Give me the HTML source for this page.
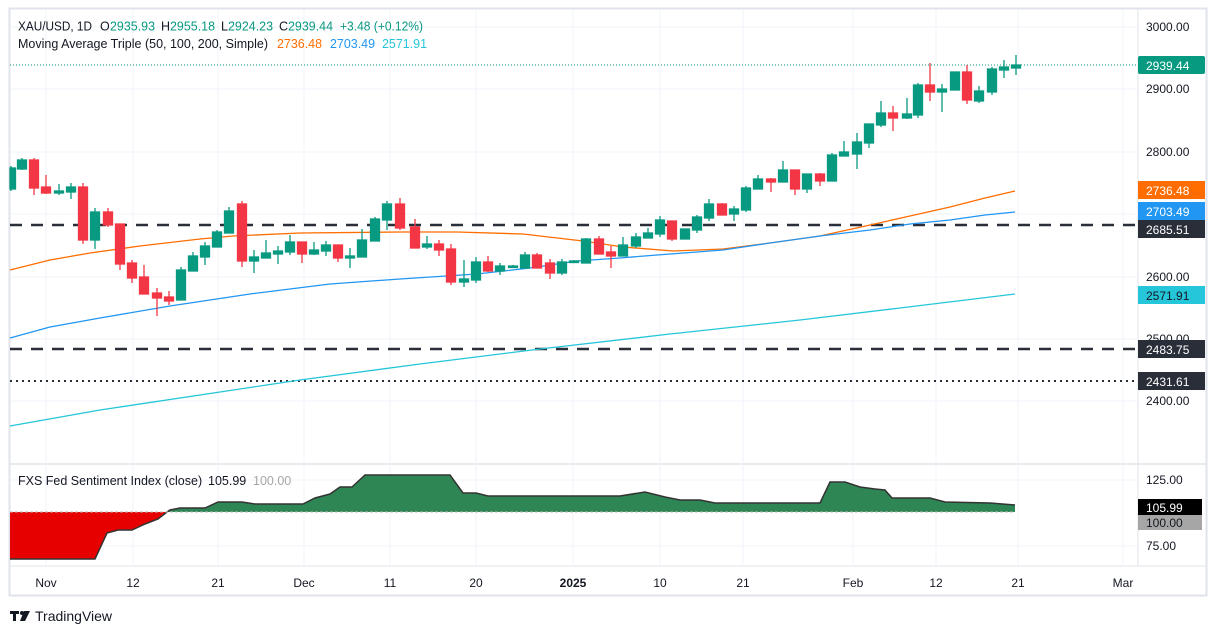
<!DOCTYPE html>
<html><head><meta charset="utf-8"><style>
html,body{margin:0;padding:0;background:#fff;}
svg{display:block;font-family:"Liberation Sans",sans-serif;}
text{white-space:pre;}
</style></head><body>
<svg width="1217" height="634" viewBox="0 0 1217 634" xmlns="http://www.w3.org/2000/svg" xml:space="preserve">
<rect x="0" y="0" width="1217" height="634" fill="#fff"/>
<rect x="9.5" y="8.5" width="1197" height="587" fill="none" stroke="#e0e3eb" stroke-width="2"/>
<line x1="1138" y1="9" x2="1138" y2="566" stroke="#e0e3eb"/>
<line x1="10" y1="464" x2="1206" y2="464" stroke="#e0e3eb" stroke-width="1.5"/>
<line x1="10" y1="566" x2="1206" y2="566" stroke="#e0e3eb"/>
<g stroke="#f0f3fa" stroke-width="1">
<line x1="10" y1="27" x2="1138" y2="27"/><line x1="10" y1="89" x2="1138" y2="89"/><line x1="10" y1="152" x2="1138" y2="152"/><line x1="10" y1="214" x2="1138" y2="214"/><line x1="10" y1="277" x2="1138" y2="277"/><line x1="10" y1="339" x2="1138" y2="339"/><line x1="10" y1="401" x2="1138" y2="401"/>
<line x1="10" y1="480" x2="1138" y2="480"/><line x1="10" y1="546" x2="1138" y2="546"/>
<line x1="46" y1="9" x2="46" y2="566"/><line x1="133" y1="9" x2="133" y2="566"/><line x1="218" y1="9" x2="218" y2="566"/><line x1="304" y1="9" x2="304" y2="566"/><line x1="390" y1="9" x2="390" y2="566"/><line x1="476" y1="9" x2="476" y2="566"/><line x1="573" y1="9" x2="573" y2="566"/><line x1="660" y1="9" x2="660" y2="566"/><line x1="743" y1="9" x2="743" y2="566"/><line x1="853" y1="9" x2="853" y2="566"/><line x1="936" y1="9" x2="936" y2="566"/><line x1="1018" y1="9" x2="1018" y2="566"/><line x1="1123" y1="9" x2="1123" y2="566"/>
</g>
<line x1="10" y1="225" x2="1138" y2="225" stroke="#2a2e39" stroke-width="2.5" stroke-dasharray="12,9"/>
<line x1="10" y1="349" x2="1138" y2="349" stroke="#2a2e39" stroke-width="2.5" stroke-dasharray="12,9"/>
<line x1="10" y1="381" x2="1138" y2="381" stroke="#2a2e39" stroke-width="2" stroke-dasharray="2,4"/>
<line x1="10" y1="65" x2="1138" y2="65" stroke="#089981" stroke-width="1" stroke-dasharray="1,2"/>
<polyline fill="none" stroke="#ff6d00" stroke-width="1.3" points="10,270 50,260 90,253 140,246 200,239 233,236 300,233 400,232 457,232 523,234 583,241 623,247 673,251 723,249 770,243 820,236 870,225 910,216 950,207 985,198 1015,191"/>
<polyline fill="none" stroke="#2196f3" stroke-width="1.3" points="10,338 50,327 100,318 170,306 250,294 330,284 400,279 477,274 530,268 577,261 620,258 657,255 723,250 770,243 820,236 870,230 910,224 950,220 985,215 1015,212"/>
<polyline fill="none" stroke="#26c6da" stroke-width="1.3" points="10,426 100,410 200,395 300,380 420,364 540,349 670,334 800,320 900,308 1015,294"/>
<g stroke-width="1.3">
<g stroke="#089981" fill="#089981"><line x1="11" y1="166" x2="11" y2="191"/><rect x="10" y="168" width="5.5" height="21"/></g>
<g stroke="#089981" fill="#089981"><line x1="22" y1="158" x2="22" y2="170"/><rect x="17.5" y="160" width="9" height="9"/></g>
<g stroke="#f23645" fill="#f23645"><line x1="34" y1="158" x2="34" y2="195"/><rect x="29.5" y="160" width="9" height="28"/></g>
<g stroke="#f23645" fill="#f23645"><line x1="46" y1="175" x2="46" y2="194"/><rect x="41.5" y="187" width="9" height="6"/></g>
<g stroke="#089981" fill="#089981"><line x1="59" y1="184" x2="59" y2="195"/><rect x="54.5" y="191" width="9" height="2"/></g>
<g stroke="#089981" fill="#089981"><line x1="71" y1="183" x2="71" y2="199"/><rect x="66.5" y="187" width="9" height="5"/></g>
<g stroke="#f23645" fill="#f23645"><line x1="83" y1="183" x2="83" y2="244"/><rect x="78.5" y="187" width="9" height="53"/></g>
<g stroke="#089981" fill="#089981"><line x1="95" y1="208" x2="95" y2="249"/><rect x="90.5" y="212" width="9" height="28"/></g>
<g stroke="#f23645" fill="#f23645"><line x1="108" y1="208" x2="108" y2="227"/><rect x="103.5" y="212" width="9" height="13"/></g>
<g stroke="#f23645" fill="#f23645"><line x1="120" y1="224" x2="120" y2="270"/><rect x="115.5" y="224" width="9" height="40"/></g>
<g stroke="#f23645" fill="#f23645"><line x1="132" y1="260" x2="132" y2="283"/><rect x="127.5" y="263" width="9" height="15"/></g>
<g stroke="#f23645" fill="#f23645"><line x1="144" y1="265" x2="144" y2="294"/><rect x="139.5" y="277" width="9" height="17"/></g>
<g stroke="#f23645" fill="#f23645"><line x1="157" y1="288" x2="157" y2="316"/><rect x="152.5" y="293" width="9" height="5"/></g>
<g stroke="#f23645" fill="#f23645"><line x1="169" y1="291" x2="169" y2="305"/><rect x="164.5" y="297" width="9" height="4"/></g>
<g stroke="#089981" fill="#089981"><line x1="181" y1="267" x2="181" y2="300"/><rect x="176.5" y="270" width="9" height="30"/></g>
<g stroke="#089981" fill="#089981"><line x1="193" y1="252" x2="193" y2="271"/><rect x="188.5" y="256" width="9" height="15"/></g>
<g stroke="#089981" fill="#089981"><line x1="205" y1="242" x2="205" y2="265"/><rect x="200.5" y="246" width="9" height="11"/></g>
<g stroke="#089981" fill="#089981"><line x1="217" y1="230" x2="217" y2="247"/><rect x="212.5" y="232" width="9" height="15"/></g>
<g stroke="#089981" fill="#089981"><line x1="229" y1="207" x2="229" y2="233"/><rect x="224.5" y="211" width="9" height="22"/></g>
<g stroke="#f23645" fill="#f23645"><line x1="242" y1="201" x2="242" y2="267"/><rect x="237.5" y="204" width="9" height="57"/></g>
<g stroke="#089981" fill="#089981"><line x1="254" y1="250" x2="254" y2="273"/><rect x="249.5" y="257" width="9" height="4"/></g>
<g stroke="#089981" fill="#089981"><line x1="266" y1="240" x2="266" y2="258"/><rect x="261.5" y="253" width="9" height="5"/></g>
<g stroke="#089981" fill="#089981"><line x1="278" y1="246" x2="278" y2="264"/><rect x="273.5" y="251" width="9" height="3"/></g>
<g stroke="#089981" fill="#089981"><line x1="290" y1="235" x2="290" y2="255"/><rect x="285.5" y="242" width="9" height="10"/></g>
<g stroke="#f23645" fill="#f23645"><line x1="302" y1="242" x2="302" y2="263"/><rect x="297.5" y="242" width="9" height="12"/></g>
<g stroke="#089981" fill="#089981"><line x1="314" y1="242" x2="314" y2="255"/><rect x="309.5" y="250" width="9" height="4"/></g>
<g stroke="#089981" fill="#089981"><line x1="326" y1="241" x2="326" y2="256"/><rect x="321.5" y="245" width="9" height="6"/></g>
<g stroke="#f23645" fill="#f23645"><line x1="338" y1="245" x2="338" y2="262"/><rect x="333.5" y="245" width="9" height="13"/></g>
<g stroke="#089981" fill="#089981"><line x1="350" y1="248" x2="350" y2="268"/><rect x="345.5" y="256" width="9" height="2"/></g>
<g stroke="#089981" fill="#089981"><line x1="362" y1="229" x2="362" y2="257"/><rect x="357.5" y="240" width="9" height="17"/></g>
<g stroke="#089981" fill="#089981"><line x1="375" y1="217" x2="375" y2="241"/><rect x="370.5" y="219" width="9" height="22"/></g>
<g stroke="#089981" fill="#089981"><line x1="387" y1="201" x2="387" y2="230"/><rect x="382.5" y="204" width="9" height="16"/></g>
<g stroke="#f23645" fill="#f23645"><line x1="400" y1="198" x2="400" y2="230"/><rect x="395.5" y="204" width="9" height="24"/></g>
<g stroke="#f23645" fill="#f23645"><line x1="415" y1="219" x2="415" y2="248"/><rect x="410.5" y="227" width="9" height="21"/></g>
<g stroke="#089981" fill="#089981"><line x1="427" y1="236" x2="427" y2="249"/><rect x="422.5" y="244" width="9" height="3"/></g>
<g stroke="#f23645" fill="#f23645"><line x1="439" y1="240" x2="439" y2="256"/><rect x="434.5" y="244" width="9" height="6"/></g>
<g stroke="#f23645" fill="#f23645"><line x1="451" y1="244" x2="451" y2="285"/><rect x="446.5" y="249" width="9" height="33"/></g>
<g stroke="#089981" fill="#089981"><line x1="464" y1="260" x2="464" y2="287"/><rect x="459.5" y="279" width="9" height="3"/></g>
<g stroke="#089981" fill="#089981"><line x1="476" y1="257" x2="476" y2="283"/><rect x="471.5" y="262" width="9" height="18"/></g>
<g stroke="#f23645" fill="#f23645"><line x1="488" y1="256" x2="488" y2="272"/><rect x="483.5" y="262" width="9" height="9"/></g>
<g stroke="#089981" fill="#089981"><line x1="500" y1="263" x2="500" y2="275"/><rect x="495.5" y="266" width="9" height="5"/></g>
<g stroke="#089981" fill="#089981"><line x1="513" y1="265" x2="513" y2="268"/><rect x="508.5" y="266" width="9" height="1.5"/></g>
<g stroke="#089981" fill="#089981"><line x1="525" y1="252" x2="525" y2="268"/><rect x="520.5" y="255" width="9" height="13"/></g>
<g stroke="#f23645" fill="#f23645"><line x1="537" y1="253" x2="537" y2="268"/><rect x="532.5" y="255" width="9" height="13"/></g>
<g stroke="#f23645" fill="#f23645"><line x1="550" y1="259" x2="550" y2="279"/><rect x="545.5" y="263" width="9" height="10"/></g>
<g stroke="#089981" fill="#089981"><line x1="562" y1="259" x2="562" y2="275"/><rect x="557.5" y="262" width="9" height="11"/></g>
<g stroke="#089981" fill="#089981"><line x1="574" y1="260" x2="574" y2="263"/><rect x="569.5" y="261" width="9" height="1.5"/></g>
<g stroke="#089981" fill="#089981"><line x1="586" y1="238" x2="586" y2="263"/><rect x="581.5" y="239" width="9" height="24"/></g>
<g stroke="#f23645" fill="#f23645"><line x1="599" y1="236" x2="599" y2="254"/><rect x="594.5" y="239" width="9" height="15"/></g>
<g stroke="#f23645" fill="#f23645"><line x1="611" y1="246" x2="611" y2="268"/><rect x="606.5" y="252" width="9" height="4"/></g>
<g stroke="#089981" fill="#089981"><line x1="623" y1="237" x2="623" y2="256"/><rect x="618.5" y="245" width="9" height="11"/></g>
<g stroke="#089981" fill="#089981"><line x1="636" y1="233" x2="636" y2="248"/><rect x="631.5" y="237" width="9" height="9"/></g>
<g stroke="#089981" fill="#089981"><line x1="648" y1="228" x2="648" y2="238"/><rect x="643.5" y="233" width="9" height="5"/></g>
<g stroke="#089981" fill="#089981"><line x1="660" y1="216" x2="660" y2="237"/><rect x="655.5" y="220" width="9" height="14"/></g>
<g stroke="#f23645" fill="#f23645"><line x1="672" y1="221" x2="672" y2="241"/><rect x="667.5" y="221" width="9" height="18"/></g>
<g stroke="#089981" fill="#089981"><line x1="685" y1="229" x2="685" y2="239"/><rect x="680.5" y="229" width="9" height="10"/></g>
<g stroke="#089981" fill="#089981"><line x1="697" y1="215" x2="697" y2="233"/><rect x="692.5" y="217" width="9" height="13"/></g>
<g stroke="#089981" fill="#089981"><line x1="709" y1="199" x2="709" y2="221"/><rect x="704.5" y="204" width="9" height="14"/></g>
<g stroke="#f23645" fill="#f23645"><line x1="722" y1="203" x2="722" y2="215"/><rect x="717.5" y="204" width="9" height="11"/></g>
<g stroke="#089981" fill="#089981"><line x1="734" y1="206" x2="734" y2="221"/><rect x="729.5" y="209" width="9" height="5"/></g>
<g stroke="#089981" fill="#089981"><line x1="746" y1="186" x2="746" y2="212"/><rect x="741.5" y="188" width="9" height="22"/></g>
<g stroke="#089981" fill="#089981"><line x1="758" y1="175" x2="758" y2="189"/><rect x="753.5" y="179" width="9" height="10"/></g>
<g stroke="#f23645" fill="#f23645"><line x1="771" y1="178" x2="771" y2="192"/><rect x="766.5" y="179" width="9" height="3"/></g>
<g stroke="#089981" fill="#089981"><line x1="783" y1="161" x2="783" y2="182"/><rect x="778.5" y="170" width="9" height="12"/></g>
<g stroke="#f23645" fill="#f23645"><line x1="795" y1="170" x2="795" y2="195"/><rect x="790.5" y="170" width="9" height="19"/></g>
<g stroke="#089981" fill="#089981"><line x1="807" y1="174" x2="807" y2="193"/><rect x="802.5" y="174" width="9" height="15"/></g>
<g stroke="#f23645" fill="#f23645"><line x1="820" y1="173" x2="820" y2="186"/><rect x="815.5" y="174" width="9" height="7"/></g>
<g stroke="#089981" fill="#089981"><line x1="832" y1="153" x2="832" y2="181"/><rect x="827.5" y="155" width="9" height="26"/></g>
<g stroke="#089981" fill="#089981"><line x1="844" y1="141" x2="844" y2="156"/><rect x="839.5" y="152" width="9" height="4"/></g>
<g stroke="#089981" fill="#089981"><line x1="857" y1="133" x2="857" y2="169"/><rect x="852.5" y="142" width="9" height="12"/></g>
<g stroke="#089981" fill="#089981"><line x1="869" y1="124" x2="869" y2="148"/><rect x="864.5" y="124" width="9" height="19"/></g>
<g stroke="#089981" fill="#089981"><line x1="881" y1="101" x2="881" y2="127"/><rect x="876.5" y="113" width="9" height="12"/></g>
<g stroke="#f23645" fill="#f23645"><line x1="893" y1="106" x2="893" y2="131"/><rect x="888.5" y="113" width="9" height="5"/></g>
<g stroke="#089981" fill="#089981"><line x1="907" y1="98" x2="907" y2="119"/><rect x="902.5" y="114" width="9" height="4"/></g>
<g stroke="#089981" fill="#089981"><line x1="918" y1="83" x2="918" y2="118"/><rect x="913.5" y="85" width="9" height="30"/></g>
<g stroke="#f23645" fill="#f23645"><line x1="930" y1="63" x2="930" y2="101"/><rect x="925.5" y="85" width="9" height="7"/></g>
<g stroke="#089981" fill="#089981"><line x1="942" y1="84" x2="942" y2="112"/><rect x="937.5" y="89" width="9" height="3"/></g>
<g stroke="#089981" fill="#089981"><line x1="955" y1="72" x2="955" y2="90"/><rect x="950.5" y="72" width="9" height="18"/></g>
<g stroke="#f23645" fill="#f23645"><line x1="967" y1="65" x2="967" y2="104"/><rect x="962.5" y="72" width="9" height="28"/></g>
<g stroke="#089981" fill="#089981"><line x1="979" y1="86" x2="979" y2="103"/><rect x="974.5" y="91" width="9" height="10"/></g>
<g stroke="#089981" fill="#089981"><line x1="992" y1="67" x2="992" y2="95"/><rect x="987.5" y="69" width="9" height="23"/></g>
<g stroke="#089981" fill="#089981"><line x1="1004" y1="60" x2="1004" y2="78"/><rect x="999.5" y="67" width="9" height="3"/></g>
<g stroke="#089981" fill="#089981"><line x1="1016" y1="55" x2="1016" y2="75"/><rect x="1011.5" y="65" width="9" height="3"/></g>
</g>
<g font-size="12.5" fill="#131722">
<text x="18" y="30.5" textLength="74" lengthAdjust="spacingAndGlyphs">XAU/USD, 1D</text>
<text x="100" y="30.5">O</text><text x="110" y="30.5" fill="#089981" textLength="45" lengthAdjust="spacingAndGlyphs">2935.93</text>
<text x="161" y="30.5">H</text><text x="170" y="30.5" fill="#089981" textLength="45" lengthAdjust="spacingAndGlyphs">2955.18</text>
<text x="221" y="30.5">L</text><text x="228" y="30.5" fill="#089981" textLength="45" lengthAdjust="spacingAndGlyphs">2924.23</text>
<text x="279" y="30.5">C</text><text x="288" y="30.5" fill="#089981" textLength="45" lengthAdjust="spacingAndGlyphs">2939.44</text>
<text x="340" y="30.5" fill="#089981" textLength="83" lengthAdjust="spacingAndGlyphs">+3.48 (+0.12%)</text>
<text x="18" y="48" textLength="250" lengthAdjust="spacingAndGlyphs">Moving Average Triple (50, 100, 200, Simple)</text>
<text x="277" y="48" fill="#ff6d00" textLength="45" lengthAdjust="spacingAndGlyphs">2736.48</text>
<text x="330" y="48" fill="#2196f3" textLength="45" lengthAdjust="spacingAndGlyphs">2703.49</text>
<text x="382" y="48" fill="#26c6da" textLength="45" lengthAdjust="spacingAndGlyphs">2571.91</text>
</g>
<g font-size="12" fill="#131722">
<text x="1146" y="31">3000.00</text><text x="1146" y="93">2900.00</text><text x="1146" y="156">2800.00</text><text x="1146" y="281">2600.00</text><text x="1146" y="343">2500.00</text><text x="1146" y="405">2400.00</text>
<text x="1146" y="484">125.00</text><text x="1146" y="550">75.00</text>
</g>
<g font-size="12" fill="#fff">
<rect x="1138" y="56" width="67" height="18" rx="2" fill="#089981"/><text x="1146" y="70">2939.44</text>
<rect x="1138" y="181" width="67" height="18" fill="#ff6d00"/><text x="1146" y="195">2736.48</text>
<rect x="1138" y="202" width="67" height="18" fill="#2196f3"/><text x="1146" y="216">2703.49</text>
<rect x="1138" y="220" width="67" height="18" fill="#2a2e39"/><text x="1146" y="234">2685.51</text>
<rect x="1138" y="286" width="67" height="18" fill="#26c6da"/><text x="1146" y="300" fill="#131722">2571.91</text>
<rect x="1138" y="340" width="67" height="18" fill="#2a2e39"/><text x="1146" y="354">2483.75</text>
<rect x="1138" y="372" width="67" height="18" fill="#2a2e39"/><text x="1146" y="386">2431.61</text>
<rect x="1138" y="499" width="64" height="16" fill="#000"/><text x="1146" y="512">105.99</text>
<rect x="1138" y="515" width="64" height="15" fill="#a6a6a6"/><text x="1146" y="527" fill="#131722">100.00</text>
</g>
<polygon fill="#e60000" points="10,512 167,512 158,519 145,524 132,530 118,530 107,533 95,559 10,559"/>
<polygon fill="#2e8654" points="167,512 170,510 180,508 205,508 218,502 242,502 255,504 303,504 315,498 330,494 340,487 352,487 365,475 450,475 463,493 476,493 488,496 620,496 645,492 665,497 680,500 700,500 715,503 820,503 830,482 845,482 860,487 875,489 885,490 892,498 930,498 945,502 990,503 1015,505 1015,512"/>
<polyline fill="none" stroke="#333" stroke-width="1.5" points="10,559 95,559 107,533 118,530 132,530 145,524 158,519 167,512 170,510 180,508 205,508 218,502 242,502 255,504 303,504 315,498 330,494 340,487 352,487 365,475 450,475 463,493 476,493 488,496 620,496 645,492 665,497 680,500 700,500 715,503 820,503 830,482 845,482 860,487 875,489 885,490 892,498 930,498 945,502 990,503 1015,505"/>
<line x1="10" y1="512" x2="1015" y2="512" stroke="#bbb" stroke-dasharray="3,2"/>
<g font-size="12.5" fill="#131722">
<text x="18" y="485">FXS Fed Sentiment Index (close)</text>
<text x="208" y="485">105.99</text>
<text x="253" y="485" fill="#a6a6a6">100.00</text>
</g>
<g font-size="12" fill="#131722" text-anchor="middle">
<text x="46" y="587">Nov</text><text x="133" y="587">12</text><text x="218" y="587">21</text><text x="304" y="587">Dec</text><text x="390" y="587">11</text><text x="476" y="587">20</text><text x="573" y="587" font-weight="bold">2025</text><text x="660" y="587">10</text><text x="743" y="587">21</text><text x="853" y="587">Feb</text><text x="936" y="587">12</text><text x="1018" y="587">21</text><text x="1123" y="587">Mar</text>
</g>
<g fill="#131722"><rect x="10" y="611" width="9" height="3"/><rect x="13" y="611" width="3" height="10"/><circle cx="22" cy="613" r="2"/><polygon points="24,611 30,611 25,621 20,621"/></g>
<text x="35" y="621" font-size="14" fill="#131722">TradingView</text>
</svg>
</body></html>
